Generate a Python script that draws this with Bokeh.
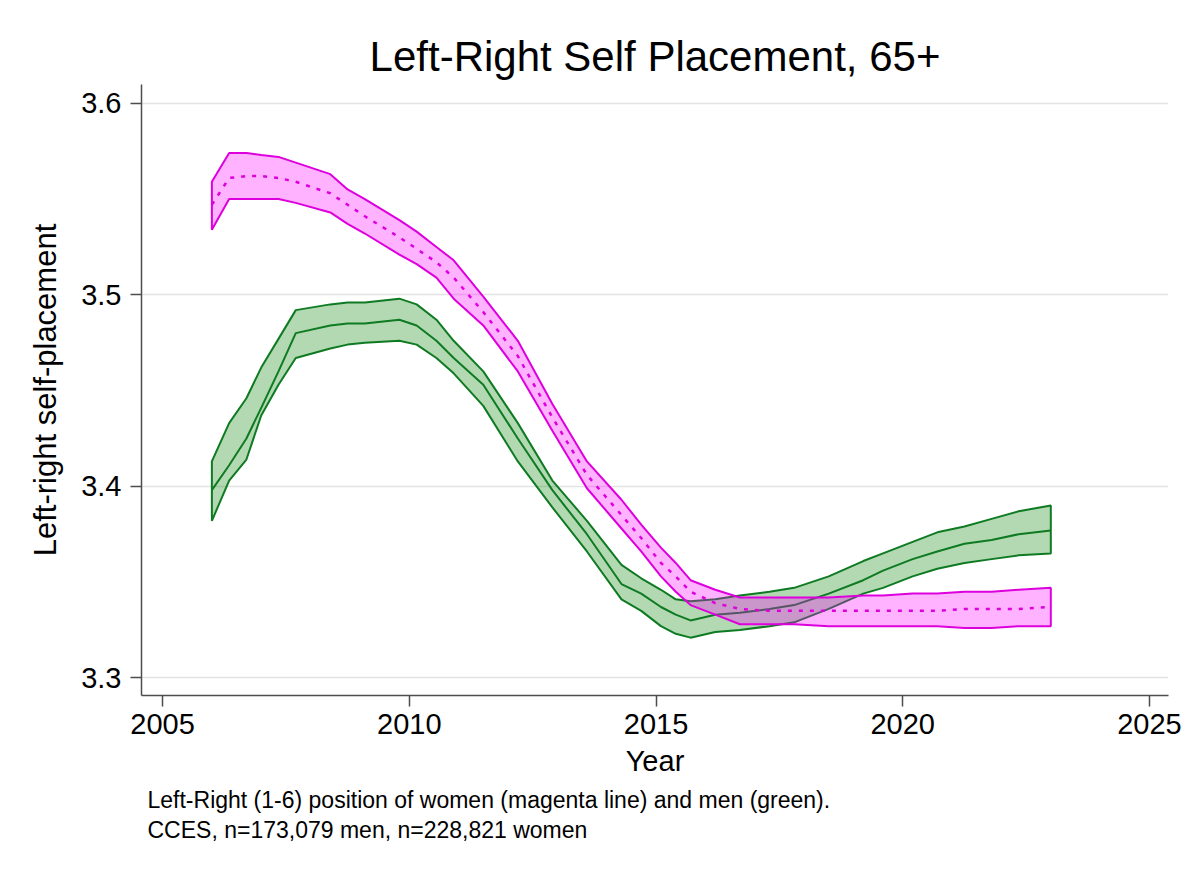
from bokeh.plotting import figure
from bokeh.models import Range1d, FixedTicker, Title
from bokeh.embed import file_html
from bokeh.resources import INLINE

# ---------------- data ----------------
years = [2006.0, 2006.35, 2006.7, 2007.0, 2007.35, 2007.7, 2008.4, 2008.75, 2009.1,
         2009.8, 2010.15, 2010.55, 2010.9, 2011.5, 2012.2, 2012.9, 2013.6, 2014.3,
         2014.7, 2015.1, 2015.4, 2015.7, 2016.2, 2016.7, 2017.3, 2017.8, 2018.5,
         2019.2, 2019.6, 2020.2, 2020.7, 2021.25, 2021.8, 2022.35, 2023.0]

women_upper = [3.559, 3.574, 3.574, 3.573, 3.572, 3.569, 3.563, 3.555, 3.550, 3.539,
               3.533, 3.525, 3.518, 3.499, 3.476, 3.443, 3.413, 3.393, 3.380, 3.368,
               3.360, 3.351, 3.346, 3.342, 3.342, 3.342, 3.342, 3.343, 3.343, 3.344,
               3.344, 3.345, 3.345, 3.346, 3.347]
women_mean = [3.547, 3.561, 3.562, 3.562, 3.561, 3.559, 3.553, 3.547, 3.541, 3.530,
              3.524, 3.517, 3.509, 3.491, 3.468, 3.436, 3.406, 3.385, 3.373, 3.360,
              3.353, 3.345, 3.339, 3.336, 3.335, 3.335, 3.335, 3.335, 3.335, 3.335,
              3.335, 3.336, 3.336, 3.336, 3.337]
women_lower = [3.534, 3.550, 3.550, 3.550, 3.550, 3.548, 3.543, 3.537, 3.532, 3.521,
               3.516, 3.509, 3.498, 3.484, 3.460, 3.429, 3.399, 3.378, 3.366, 3.353,
               3.345, 3.338, 3.333, 3.328, 3.328, 3.328, 3.327, 3.327, 3.327, 3.327,
               3.327, 3.326, 3.326, 3.327, 3.327]

men_upper = [3.413, 3.433, 3.446, 3.462, 3.477, 3.492, 3.495, 3.496, 3.496, 3.498,
             3.495, 3.487, 3.476, 3.460, 3.433, 3.403, 3.382, 3.359, 3.352, 3.346,
             3.341, 3.340, 3.341, 3.343, 3.345, 3.347, 3.353, 3.361, 3.365, 3.371,
             3.376, 3.379, 3.383, 3.387, 3.390]
men_mean = [3.398, 3.411, 3.425, 3.441, 3.460, 3.480, 3.484, 3.485, 3.485, 3.487,
            3.484, 3.476, 3.467, 3.453, 3.425, 3.398, 3.375, 3.349, 3.344, 3.337,
            3.333, 3.330, 3.333, 3.334, 3.336, 3.338, 3.344, 3.351, 3.356, 3.362,
            3.366, 3.370, 3.372, 3.375, 3.377]
men_lower = [3.382, 3.403, 3.414, 3.437, 3.453, 3.467, 3.472, 3.474, 3.475, 3.476,
             3.474, 3.467, 3.459, 3.442, 3.413, 3.389, 3.366, 3.341, 3.335, 3.327,
             3.323, 3.321, 3.324, 3.325, 3.327, 3.329, 3.336, 3.344, 3.347, 3.353,
             3.357, 3.360, 3.362, 3.364, 3.365]

x_ticks = [2005, 2010, 2015, 2020, 2025]
x_tick_labels = ["2005", "2010", "2015", "2020", "2025"]
y_ticks = [3.3, 3.4, 3.5, 3.6]
y_tick_labels = ["3.3", "3.4", "3.5", "3.6"]

title_text = "Left-Right Self Placement, 65+"
x_label = "Year"
y_label = "Left-right self-placement"
note_lines = ["Left-Right (1-6) position of women (magenta line) and men (green).",
              "CCES, n=173,079 men, n=228,821 women"]

# ---------------- styling ----------------
FONT = "Liberation Sans"
MAGENTA_LINE = "#dd00dd"
MAGENTA_FILL = "#ff00ff"
GREEN_LINE = "#0e7a22"
GREEN_FILL = "#008000"

p = figure(width=1184, height=857, output_backend="svg", toolbar_location=None,
           x_range=Range1d(2004.574, 2025.385), y_range=Range1d(3.2908, 3.6098),
           min_border_left=141, min_border_right=16, min_border_top=84,
           min_border_bottom=162)
p.background_fill_color = "white"
p.border_fill_color = "white"
p.outline_line_color = None

p.title.text = title_text
p.title.align = "center"
p.title.text_font = FONT
p.title.text_font_size = "42px"
p.title.text_font_style = "normal"
p.title.text_color = "black"

# grids
p.xgrid.grid_line_color = None
p.ygrid.grid_line_color = "#e3e3e3"
p.ygrid.grid_line_width = 1.6

# axes
for ax in (p.xaxis[0], p.yaxis[0]):
    ax.axis_line_color = "#4d4d4d"
    ax.axis_line_width = 1.5
    ax.major_tick_line_color = "#4d4d4d"
    ax.major_tick_line_width = 1.5
    ax.major_tick_out = 11
    ax.major_tick_in = 0
    ax.minor_tick_line_color = None
    ax.major_label_text_font = FONT
    ax.major_label_text_font_size = "29px"
    ax.major_label_text_color = "black"
    ax.axis_label_text_font = FONT
    ax.axis_label_text_font_style = "normal"
    ax.axis_label_text_color = "black"

p.xaxis.ticker = FixedTicker(ticks=x_ticks)
p.xaxis.major_label_overrides = dict(zip(x_ticks, x_tick_labels))
p.yaxis.ticker = FixedTicker(ticks=y_ticks)
p.yaxis.major_label_overrides = dict(zip(y_ticks, y_tick_labels))
p.ygrid.ticker = FixedTicker(ticks=y_ticks)
p.xaxis.axis_label = x_label
p.yaxis.axis_label = y_label
p.xaxis.axis_label_text_font_size = "29px"
p.yaxis.axis_label_text_font_size = "31px"
p.xaxis.major_label_standoff = 7
p.yaxis.major_label_standoff = 9
p.xaxis.axis_label_standoff = 8
p.yaxis.axis_label_standoff = 15

# men band (drawn first), then women band on top
p.patch(years + years[::-1], men_upper + men_lower[::-1],
        fill_color=GREEN_FILL, fill_alpha=0.3, line_color=GREEN_LINE, line_width=2)
p.line(years, men_mean, line_color=GREEN_LINE, line_width=2)

p.patch(years + years[::-1], women_upper + women_lower[::-1],
        fill_color=MAGENTA_FILL, fill_alpha=0.3, line_color=MAGENTA_LINE, line_width=2)
p.line(years, women_mean, line_color=MAGENTA_LINE, line_width=2.5, line_dash="4 7")

for i, t in enumerate(note_lines):
    p.add_layout(Title(text=t, align="left", offset=6, standoff=(10 if i == 0 else -5),
                       text_font=FONT, text_font_size="23px",
                       text_font_style="normal", text_color="black"), "below")

open("out.html", "w").write(file_html(p, INLINE))
